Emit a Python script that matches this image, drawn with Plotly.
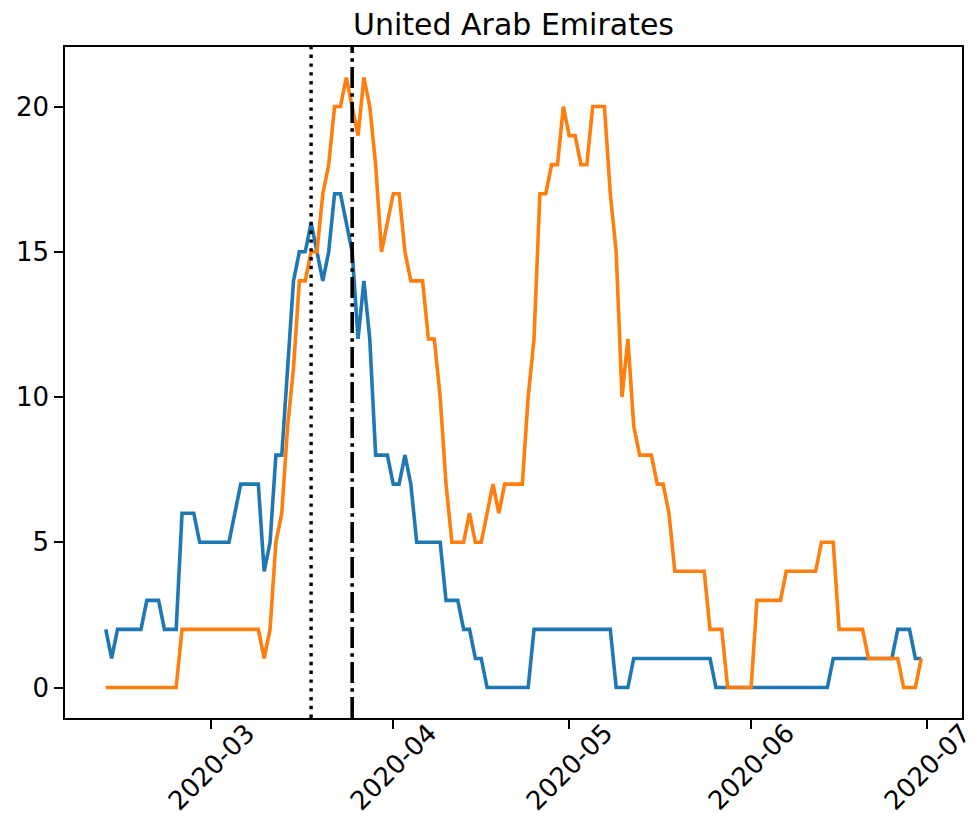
import pandas as pd
import plotly.graph_objects as go

# Daily series, 2020-02-12 .. 2020-06-30
dates = pd.date_range("2020-02-12", "2020-06-30", freq="D")

series_blue = [
    2, 1, 2, 2, 2, 2, 2, 3, 3, 3,
    2, 2, 2, 6, 6, 6, 5, 5, 5, 5,
    5, 5, 6, 7, 7, 7, 7, 4, 5, 8,
    8, 11, 14, 15, 15, 16, 15, 14, 15, 17,
    17, 16, 15, 12, 14, 12, 8, 8, 8, 7,
    7, 8, 7, 5, 5, 5, 5, 5, 3, 3,
    3, 2, 2, 1, 1, 0, 0, 0, 0, 0,
    0, 0, 0, 2, 2, 2, 2, 2, 2, 2,
    2, 2, 2, 2, 2, 2, 2, 0, 0, 0,
    1, 1, 1, 1, 1, 1, 1, 1, 1, 1,
    1, 1, 1, 1, 0, 0, 0, 0, 0, 0,
    0, 0, 0, 0, 0, 0, 0, 0, 0, 0,
    0, 0, 0, 0, 1, 1, 1, 1, 1, 1,
    1, 1, 1, 1, 1, 2, 2, 2, 1, 1,
]

series_orange = [
    0, 0, 0, 0, 0, 0, 0, 0, 0, 0,
    0, 0, 0, 2, 2, 2, 2, 2, 2, 2,
    2, 2, 2, 2, 2, 2, 2, 1, 2, 5,
    6, 9, 11, 14, 14, 15, 15, 17, 18, 20,
    20, 21, 20, 19, 21, 20, 18, 15, 16, 17,
    17, 15, 14, 14, 14, 12, 12, 10, 7, 5,
    5, 5, 6, 5, 5, 6, 7, 6, 7, 7,
    7, 7, 10, 12, 17, 17, 18, 18, 20, 19,
    19, 18, 18, 20, 20, 20, 17, 15, 10, 12,
    9, 8, 8, 8, 7, 7, 6, 4, 4, 4,
    4, 4, 4, 2, 2, 2, 0, 0, 0, 0,
    0, 3, 3, 3, 3, 3, 4, 4, 4, 4,
    4, 4, 5, 5, 5, 2, 2, 2, 2, 2,
    1, 1, 1, 1, 1, 1, 0, 0, 0, 1,
]

# Reference dates marked with vertical lines
dotted_date = "2020-03-18"
dashdot_date = "2020-03-25"

month_ticks = ["2020-03-01", "2020-04-01", "2020-05-01", "2020-06-01", "2020-07-01"]
month_labels = ["2020-03", "2020-04", "2020-05", "2020-06", "2020-07"]
y_ticks = [0, 5, 10, 15, 20]

BLUE = "#1f77b4"
ORANGE = "#ff7f0e"
FONT = "DejaVu Sans"

# 5% padding around the data, on both axes
span = dates[-1] - dates[0]
x_range = [dates[0] - span * 0.05, dates[-1] + span * 0.05]
y_lo, y_hi = min(series_blue + series_orange), max(series_blue + series_orange)
y_pad = (y_hi - y_lo) * 0.05
y_range = [y_lo - y_pad, y_hi + y_pad]

fig = go.Figure()
fig.add_trace(go.Scatter(x=dates, y=series_blue, mode="lines",
                         line=dict(color=BLUE, width=3.6), hoverinfo="skip"))
fig.add_trace(go.Scatter(x=dates, y=series_orange, mode="lines",
                         line=dict(color=ORANGE, width=3.6), hoverinfo="skip"))

fig.add_shape(type="line", xref="x", yref="paper", x0=dotted_date, x1=dotted_date,
              y0=0, y1=1, line=dict(color="black", width=3.4, dash="3.4px,5.4px"))
fig.add_shape(type="line", xref="x", yref="paper", x0=dashdot_date, x1=dashdot_date,
              y0=0, y1=1, line=dict(color="black", width=3.6, dash="21px,5.3px,3.4px,5.3px"))

# Rotated month labels, centred under each tick
for tv, tl in zip(month_ticks, month_labels):
    fig.add_annotation(x=tv, xref="x", y=0.0045, yref="paper", text=tl,
                       textangle=-45, xanchor="center", yanchor="top",
                       showarrow=False, font=dict(family=FONT, size=26, color="black"))

axis_common = dict(showline=True, mirror=True, linecolor="black", linewidth=1.6,
                   ticks="outside", ticklen=9, tickwidth=1.6, tickcolor="black",
                   showgrid=False, zeroline=False)

fig.update_layout(
    width=976, height=822,
    margin=dict(l=65, r=12, t=47, b=104),
    paper_bgcolor="white", plot_bgcolor="white",
    showlegend=False,
    font=dict(family=FONT, size=26, color="black"),
    title=dict(text="United Arab Emirates", xref="paper", x=0.5, xanchor="center",
               yref="container", y=1 - 35 / 822, yanchor="bottom",
               font=dict(family=FONT, size=30, color="black")),
    xaxis=dict(type="date", range=x_range, tickvals=month_ticks,
               showticklabels=False, **axis_common),
    yaxis=dict(range=y_range, tickvals=y_ticks, ticklabelstandoff=0,
               tickfont=dict(family=FONT, size=26, color="black"), **axis_common),
)

fig.write_html("out.html")
